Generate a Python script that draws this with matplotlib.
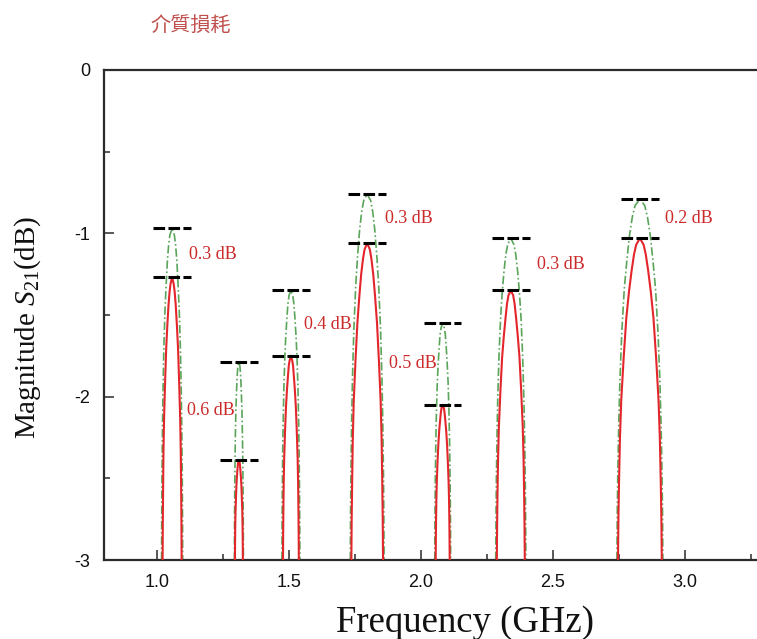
import matplotlib
matplotlib.use("Agg")
import matplotlib.pyplot as plt
from matplotlib.ticker import MultipleLocator, FixedLocator

plt.rcParams["axes.unicode_minus"] = False
plt.rcParams["mathtext.fontset"] = "custom"
plt.rcParams["mathtext.rm"] = "Liberation Serif"
plt.rcParams["mathtext.it"] = "Liberation Serif:italic"

# Resonance centre frequencies (GHz)
centers = [1.058, 1.311, 1.508, 1.797, 2.083, 2.341, 2.830]

# Traced |S21| with dielectric loss (solid red): levels from the peak down to -3 dB,
# and the half-width of the response (GHz) at each level; responses are symmetric
lossy_levels = [
    [-1.27, -1.31, -1.36, -1.44, -1.56, -1.70, -1.91, -2.14, -2.34, -2.57, -2.78, -3.00],
    [-2.39, -2.40, -2.42, -2.45, -2.49, -2.54, -2.62, -2.70, -2.77, -2.85, -2.92, -3.00],
    [-1.75, -1.78, -1.81, -1.88, -1.96, -2.06, -2.21, -2.38, -2.53, -2.69, -2.84, -3.00],
    [-1.06, -1.10, -1.16, -1.25, -1.39, -1.55, -1.78, -2.03, -2.26, -2.52, -2.75, -3.00],
    [-2.05, -2.07, -2.10, -2.15, -2.21, -2.29, -2.40, -2.53, -2.64, -2.76, -2.88, -3.00],
    [-1.35, -1.38, -1.43, -1.52, -1.63, -1.76, -1.96, -2.18, -2.37, -2.59, -2.79, -3.00],
    [-1.03, -1.07, -1.13, -1.23, -1.36, -1.52, -1.76, -2.02, -2.25, -2.51, -2.74, -3.00],
]
lossy_halfwidth = [
    [0, 0.0061, 0.0097, 0.0137, 0.0180, 0.0223, 0.0266, 0.0306, 0.0328, 0.0342, 0.0353, 0.0360],
    [0, 0.0026, 0.0041, 0.0057, 0.0075, 0.0093, 0.0111, 0.0128, 0.0137, 0.0143, 0.0147, 0.0150],
    [0, 0.0051, 0.0081, 0.0114, 0.0150, 0.0186, 0.0222, 0.0255, 0.0273, 0.0285, 0.0294, 0.0300],
    [0, 0.0102, 0.0162, 0.0228, 0.0300, 0.0372, 0.0444, 0.0510, 0.0546, 0.0570, 0.0588, 0.0600],
    [0, 0.0045, 0.0072, 0.0101, 0.0133, 0.0164, 0.0196, 0.0225, 0.0241, 0.0252, 0.0260, 0.0265],
    [0, 0.0090, 0.0143, 0.0201, 0.0265, 0.0329, 0.0392, 0.0451, 0.0482, 0.0504, 0.0519, 0.0530],
    [0, 0.0141, 0.0224, 0.0315, 0.0415, 0.0515, 0.0614, 0.0706, 0.0755, 0.0789, 0.0813, 0.0830],
]

# Traced |S21| without dielectric loss (green dash-dot)
lossless_levels = [
    [-0.97, -1.01, -1.07, -1.17, -1.32, -1.48, -1.72, -1.99, -2.23, -2.49, -2.74, -3.00],
    [-1.79, -1.81, -1.85, -1.91, -2.00, -2.09, -2.24, -2.40, -2.54, -2.70, -2.84, -3.00],
    [-1.35, -1.38, -1.43, -1.52, -1.63, -1.76, -1.96, -2.18, -2.37, -2.59, -2.79, -3.00],
    [-0.76, -0.80, -0.87, -0.98, -1.14, -1.32, -1.59, -1.88, -2.15, -2.44, -2.71, -3.00],
    [-1.55, -1.58, -1.62, -1.70, -1.80, -1.91, -2.09, -2.28, -2.45, -2.64, -2.81, -3.00],
    [-1.03, -1.07, -1.13, -1.23, -1.36, -1.52, -1.76, -2.02, -2.25, -2.51, -2.74, -3.00],
    [-0.79, -0.83, -0.90, -1.01, -1.17, -1.34, -1.61, -1.90, -2.16, -2.45, -2.71, -3.00],
]
lossless_halfwidth = [
    [0, 0.0084, 0.0132, 0.0180, 0.0228, 0.0272, 0.0316, 0.0348, 0.0368, 0.0384, 0.0394, 0.0400],
    [0, 0.0036, 0.0056, 0.0077, 0.0097, 0.0116, 0.0134, 0.0148, 0.0156, 0.0163, 0.0167, 0.0170],
    [0, 0.0071, 0.0112, 0.0153, 0.0194, 0.0231, 0.0269, 0.0296, 0.0313, 0.0326, 0.0335, 0.0340],
    [0, 0.0134, 0.0211, 0.0288, 0.0365, 0.0435, 0.0506, 0.0557, 0.0589, 0.0614, 0.0630, 0.0640],
    [0, 0.0063, 0.0099, 0.0135, 0.0171, 0.0204, 0.0237, 0.0261, 0.0276, 0.0288, 0.0296, 0.0300],
    [0, 0.0120, 0.0188, 0.0257, 0.0325, 0.0388, 0.0450, 0.0496, 0.0524, 0.0547, 0.0561, 0.0570],
    [0, 0.0183, 0.0287, 0.0392, 0.0496, 0.0592, 0.0687, 0.0757, 0.0800, 0.0835, 0.0857, 0.0870],
]

x_ticks = [1.0, 1.5, 2.0, 2.5, 3.0]
y_ticks = [0, -1, -2, -3]

# Where each loss annotation sits (GHz, dB)
label_pos = [(1.121, -1.127), (1.114, -2.082), (1.557, -1.561), (1.864, -0.912),
             (1.879, -1.800), (2.439, -1.188), (2.924, -0.912)]

RED = "#e3262b"
GREEN = "#5aa55a"
LABEL_RED = "#cc2a2a"
AXIS = "#2b2b2b"
marker_half = 0.071


def trace(center, levels, halfwidth):
    """Symmetric resonance trace: left flank bottom-up, then right flank top-down."""
    f = [center - w for w in halfwidth[::-1]] + [center + w for w in halfwidth[1:]]
    d = list(levels[::-1]) + list(levels[1:])
    return f, d


fig = plt.figure(figsize=(7.57, 6.39), dpi=100)
ax = fig.add_axes([0.1374, 0.1236, 0.8718, 0.7669])

for c, lv, hw in zip(centers, lossless_levels, lossless_halfwidth):
    f, d = trace(c, lv, hw)
    ax.plot(f, d, color=GREEN, lw=1.2, ls=(0, (5, 1.6, 1, 1.6)), zorder=2)
for c, lv, hw in zip(centers, lossy_levels, lossy_halfwidth):
    f, d = trace(c, lv, hw)
    ax.plot(f, d, color=RED, lw=1.5, zorder=3)

for c, g, r in zip(centers, lossless_levels, lossy_levels):
    for lvl in (g[0], r[0]):
        ax.plot([c - marker_half, c + marker_half], [lvl, lvl], color="black",
                lw=2.2, ls=(0, (3.8, 1.1)), solid_capstyle="butt", zorder=4)

for (lx, ly), g, r in zip(label_pos, lossless_levels, lossy_levels):
    ax.text(lx, ly, f"{g[0] - r[0]:.1f} dB", color=LABEL_RED, fontsize=13,
            family="Liberation Serif", ha="left", va="center", zorder=5)

ax.set_xlim(0.8, 3.3)
ax.set_ylim(-3, 0)
ax.xaxis.set_major_locator(FixedLocator(x_ticks))
ax.xaxis.set_minor_locator(MultipleLocator(0.25))
ax.yaxis.set_major_locator(FixedLocator(y_ticks))
ax.yaxis.set_minor_locator(MultipleLocator(0.5))
ax.set_xticklabels([f"{t:.1f}" for t in x_ticks])
ax.set_yticklabels([f"{t:d}" for t in y_ticks])

for side in ("left", "bottom", "top"):
    ax.spines[side].set_linewidth(1.6)
    ax.spines[side].set_color(AXIS)
ax.spines["right"].set_visible(False)

ax.tick_params(which="both", direction="in", top=False, right=False, color=AXIS,
               labelcolor="#111111")
ax.tick_params(which="major", length=7.5, width=1.1, labelsize=13, pad=10)
ax.tick_params(which="minor", length=4, width=1.1)
for lab in ax.get_xticklabels() + ax.get_yticklabels():
    lab.set_family("Liberation Sans")

fig.text(0.614, 0.011, "Frequency (GHz)", family="Liberation Serif", fontsize=26.5,
         ha="center", va="baseline", color="#111111")
fig.text(0.037, 1 - 327 / 639, r"Magnitude $S_{21}$(dB)", family="Liberation Serif",
         fontsize=21, rotation=90, ha="center", va="center", color="#111111")

fig.text(150 / 757, 1 - 25 / 639, "介質損耗", family=["Noto Sans CJK TC", "DejaVu Sans"],
         fontsize=14.5, color="#c0504d", ha="left", va="center")

fig.savefig("out.png", dpi=100)
